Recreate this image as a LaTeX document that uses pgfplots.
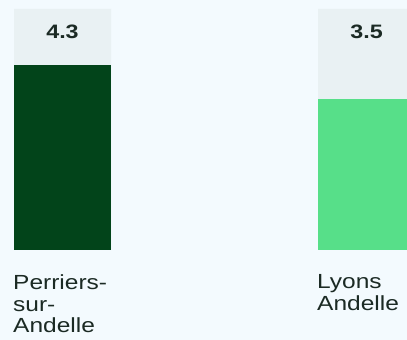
\documentclass[border=0pt]{standalone}
\usepackage{pgfplots}
\pgfplotsset{compat=1.18}
\usepackage{fontspec}
\setmainfont{Liberation Sans}[FakeStretch=1.2]

\definecolor{pagebg}{HTML}{F3FAFE}
\definecolor{track}{HTML}{E9F1F3}
\definecolor{darkgreen}{HTML}{02441A}
\definecolor{lightgreen}{HTML}{57DF89}
\definecolor{inktext}{HTML}{1B2A24}

\begin{document}
\begin{tikzpicture}
\begin{axis}[
  scale only axis,
  width=407bp, height=340bp,
  xmin=-0.2056, xmax=1.1332,
  ymin=-2.0921, ymax=5.8113,
  axis line style={draw=none},
  ticks=none,
  axis background/.style={fill=pagebg},
  ybar, bar width=97bp, bar shift=0pt,
  clip=true,
]
% grey track behind each bar, carrying the value label
\addplot[fill=track, draw=none,
  point meta=explicit symbolic,
  nodes near coords,
  nodes near coords style={anchor=center, yshift=-23bp, inner sep=0pt,
    font=\bfseries\fontsize{19.5}{22}\selectfont, text=inktext}]
  coordinates {(0,5.602) [4.3] (1,5.602) [3.5]};
\addplot[fill=darkgreen, draw=none] coordinates {(0,4.3)};
\addplot[fill=lightgreen, draw=none] coordinates {(1,3.5)};

\node[anchor=north west, inner sep=0pt, align=left, text=inktext,
  font=\fontsize{20.5}{22}\selectfont, xshift=-49.5bp]
  at (axis cs:0,-0.56) {Perriers-\\sur-\\Andelle};
\node[anchor=north west, inner sep=0pt, align=left, text=inktext,
  font=\fontsize{20.5}{22}\selectfont, xshift=-49.5bp]
  at (axis cs:1,-0.56) {Lyons\\Andelle};
\end{axis}
\end{tikzpicture}
\end{document}
